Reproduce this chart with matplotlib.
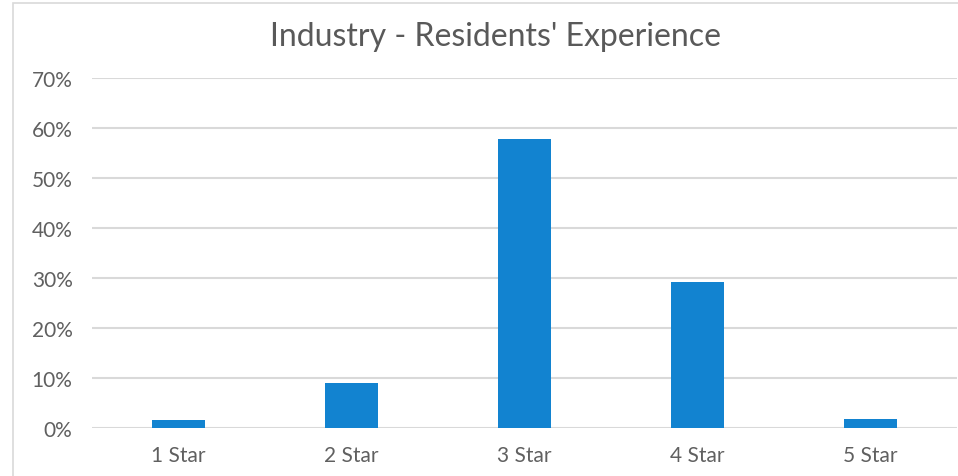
import matplotlib.pyplot as plt
from matplotlib.patches import Rectangle
from matplotlib.ticker import PercentFormatter

categories = ['1 Star', '2 Star', '3 Star', '4 Star', '5 Star']
shares = [1.7, 9.1, 57.9, 29.2, 1.8]
y_ticks = [0, 10, 20, 30, 40, 50, 60, 70]

plt.rcParams['font.family'] = ['Lato', 'DejaVu Sans']

fig = plt.figure(figsize=(9.58, 4.77), dpi=100)
ax = fig.add_axes([92 / 958, 1 - 429 / 477, 865 / 958, 350 / 477])

# light border around the chart area
fig.patches.append(Rectangle((13 / 958, -0.05), 1.1, 1 - 4 / 477 + 0.05,
                             transform=fig.transFigure, fill=False,
                             edgecolor='#d9d9d9', linewidth=1.2))

ax.bar(range(len(categories)), shares, width=0.31, color='#1283d0', zorder=3)

ax.set_xlim(-0.5, len(categories) - 0.5)
ax.set_ylim(0, 70)
ax.set_yticks(y_ticks)
ax.yaxis.set_major_formatter(PercentFormatter(decimals=0))
ax.set_xticks(range(len(categories)))
ax.set_xticklabels(categories)

ax.grid(axis='y', color='#d9d9d9', linewidth=1.5, zorder=0)
for s in ax.spines.values():
    s.set_visible(False)
ax.tick_params(axis='y', length=0, pad=14, labelsize=15, labelcolor='#606060')
ax.tick_params(axis='x', length=0, pad=12, labelsize=15, labelcolor='#606060')

fig.text(495 / 958, 1 - 37 / 477, "Industry - Residents' Experience",
         ha='center', va='center', fontsize=23, color='#595959')

fig.savefig('out.png', dpi=100)
